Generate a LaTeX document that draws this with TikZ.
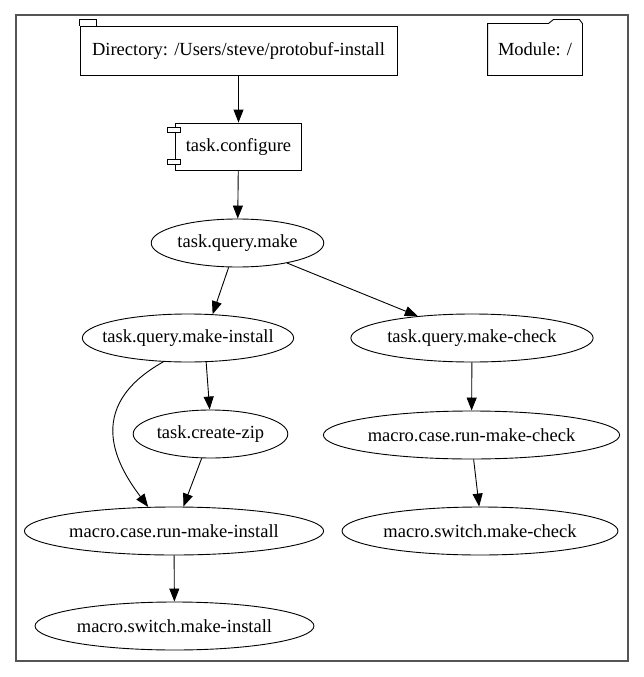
\documentclass[tikz,border=0pt]{standalone}
\usepackage{fontspec}
\setmainfont{Liberation Serif}
\usetikzlibrary{shapes.geometric,arrows.meta}
\definecolor{frameGray}{RGB}{85,85,85}

\begin{document}
\begin{tikzpicture}[x=1pt, y=-1pt, line width=0.9pt]
    % Styles
    \tikzstyle{task} = [ellipse, draw, minimum height=48pt, inner xsep=1pt, font=\fontsize{18.5}{22}\selectfont]
    \tikzstyle{box} = [rectangle, inner sep=2pt, font=\fontsize{18.5}{22}\selectfont]
    \tikzstyle{dep} = [draw, -{Triangle[length=13pt,width=10pt]}]

    \useasboundingbox (0,0) rectangle (644,677);
    \draw[frameGray, line width=1.3pt] (16,15) rectangle (628,661);

    % Directory and module
    \node[box, draw, minimum width=317pt, minimum height=49pt] (dir) at (238.5,50.5) {Directory: /Users/steve/protobuf-install};
    \draw (dir.north west) -- ++(0,-6) -- ++(17,0) -- ++(0,6);

    \node[box, minimum width=94pt, minimum height=51pt] (mod) at (535,49.5) {Module: /};
    \draw (mod.south west) -- (mod.north west) -- ([xshift=-34pt]mod.north east) -- ++(5,-4) -- ++(26,0) -- ++(3,4) -- (mod.south east) -- cycle;

    % Configure
    \node[box, draw, minimum width=126pt, minimum height=47pt] (cfg) at (238.5,146.5) {task.configure};
    \draw[fill=white] ([xshift=-8pt,yshift=-5pt]cfg.north west) rectangle ++(13,5);
    \draw[fill=white] ([xshift=-8pt,yshift=11pt]cfg.south west) rectangle ++(13,5);

    % Tasks and macros
    \node[task] (qm) at (237.5,243) {task.query.make};
    \node[task, inner xsep=-11pt] (mi) at (188,338) {task.query.make-install};
    \node[task] (mc) at (472,338) {task.query.make-check};
    \node[task] (cz) at (210.5,434) {task.create-zip};
    \node[task] (rmc) at (471.5,435) {macro.case.run-make-check};
    \node[task] (rmi) at (174,531) {macro.case.run-make-install};
    \node[task] (smc) at (480,531) {macro.switch.make-check};
    \node[task] (smi) at (174.5,626) {macro.switch.make-install};

    % Dependencies
    \draw[dep] (dir) -- (cfg);
    \draw[dep] (cfg) -- (qm);
    \draw[dep] (qm.250) -- (mi.44);
    \draw[dep] (qm.338) -- (mc.158);
    \draw[dep] (mi.307) -- (cz.92);
    \draw[dep] (mi.224) .. controls (81,408) and (119,468) .. (rmi.137);
    \draw[dep] (cz.250) -- (rmi.69);
    \draw[dep] (mc) -- (rmc);
    \draw[dep] (rmc.275) -- (smc.92);
    \draw[dep] (rmi) -- (smi);
\end{tikzpicture}
\end{document}
